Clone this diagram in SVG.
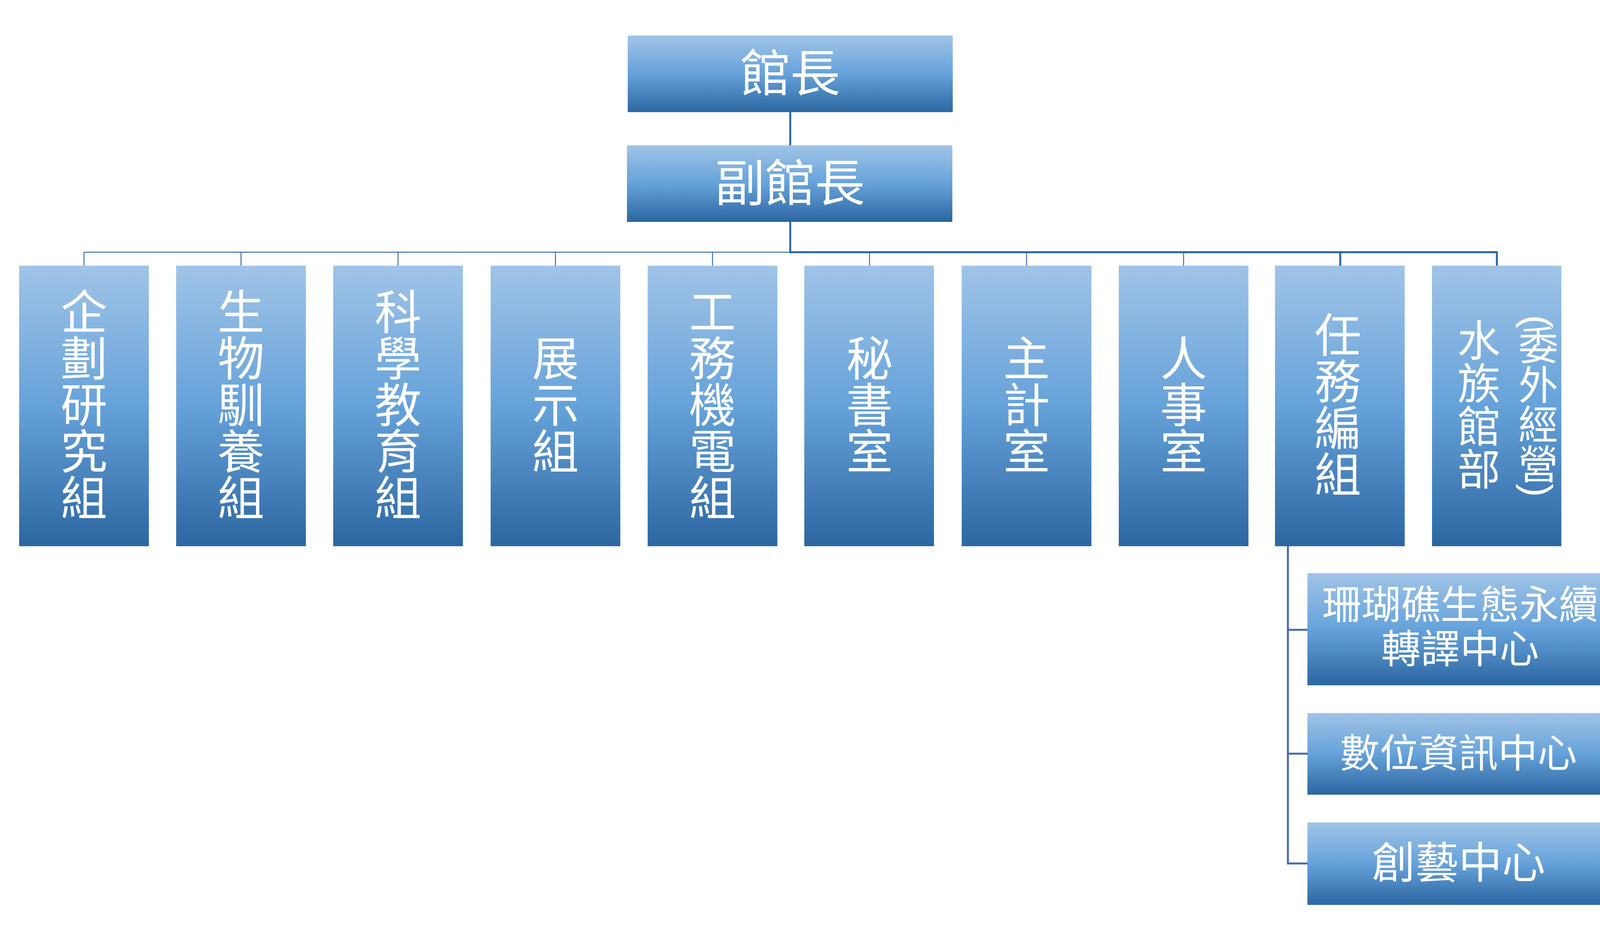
<svg xmlns="http://www.w3.org/2000/svg" width="4187" height="2411" viewBox="0 0 4187 2411">
<defs>
<linearGradient id="g" x1="0" y1="0" x2="0" y2="1">
<stop offset="0" stop-color="#A0C4E7"/>
<stop offset="0.5" stop-color="#66A2DA"/>
<stop offset="1" stop-color="#2C66A1"/>
</linearGradient>
<style>
.b{fill:url(#g)}
.t{fill:#FFFFFF;font-family:"Liberation Sans","Noto Sans CJK TC",sans-serif;text-anchor:middle;dominant-baseline:central}
.v{font-size:120px}
.thin{stroke:#3A6EA8;stroke-width:2.5;fill:none}
.thick{stroke:#2C64A3;stroke-width:5;fill:none}
.sub{stroke:#4169B4;stroke-width:5;fill:none}
</style>
</defs>
<rect width="4187" height="2411" fill="#FFFFFF"/>
<g id="connectors">
<line class="thin" x1="215" y1="645.5" x2="3832" y2="645.5"/>
<line class="thin" x1="215" y1="645" x2="215" y2="681"/>
<line class="thin" x1="617" y1="645" x2="617" y2="681"/>
<line class="thin" x1="1019" y1="645" x2="1019" y2="681"/>
<line class="thin" x1="1422" y1="645" x2="1422" y2="681"/>
<line class="thin" x1="1824" y1="645" x2="1824" y2="681"/>
<line class="thin" x1="2226" y1="645" x2="2226" y2="681"/>
<line class="thin" x1="2628" y1="645" x2="2628" y2="681"/>
<line class="thin" x1="3030" y1="645" x2="3030" y2="681"/>
<line class="thick" x1="2023" y1="287" x2="2023" y2="373"/>
<polyline class="thick" points="2023,568 2023,645.5 3832,645.5 3832,681"/>
<line class="thick" x1="3431" y1="645" x2="3431" y2="681"/>
<line class="sub" x1="3297" y1="1398" x2="3297" y2="2212"/>
<line class="sub" x1="3295" y1="1612" x2="3348" y2="1612"/>
<line class="sub" x1="3295" y1="1929" x2="3348" y2="1929"/>
<line class="sub" x1="3295" y1="2210" x2="3348" y2="2210"/>
</g>
<g id="n-director">
<rect class="b" x="1607" y="91" width="832" height="196"/>
<text class="t" x="2023" y="189" font-size="128">館長</text>
</g>
<g id="n-deputy">
<rect class="b" x="1605" y="372" width="833" height="196"/>
<text class="t" x="2022" y="470" font-size="128">副館長</text>
</g>
<g id="n-planning">
<rect class="b" x="49" y="680" width="332" height="718"/>
<text class="t v"><tspan x="215" y="801">企</tspan><tspan x="215" y="920">劃</tspan><tspan x="215" y="1039">研</tspan><tspan x="215" y="1158">究</tspan><tspan x="215" y="1277">組</tspan></text>
</g>
<g id="n-husbandry">
<rect class="b" x="451" y="680" width="332" height="718"/>
<text class="t v"><tspan x="617" y="801">生</tspan><tspan x="617" y="920">物</tspan><tspan x="617" y="1039">馴</tspan><tspan x="617" y="1158">養</tspan><tspan x="617" y="1277">組</tspan></text>
</g>
<g id="n-education">
<rect class="b" x="853" y="680" width="332" height="718"/>
<text class="t v"><tspan x="1019" y="801">科</tspan><tspan x="1019" y="920">學</tspan><tspan x="1019" y="1039">教</tspan><tspan x="1019" y="1158">育</tspan><tspan x="1019" y="1277">組</tspan></text>
</g>
<g id="n-exhibit">
<rect class="b" x="1256" y="680" width="332" height="718"/>
<text class="t v"><tspan x="1422" y="920">展</tspan><tspan x="1422" y="1039">示</tspan><tspan x="1422" y="1158">組</tspan></text>
</g>
<g id="n-engineering">
<rect class="b" x="1658" y="680" width="332" height="718"/>
<text class="t v"><tspan x="1824" y="801">工</tspan><tspan x="1824" y="920">務</tspan><tspan x="1824" y="1039">機</tspan><tspan x="1824" y="1158">電</tspan><tspan x="1824" y="1277">組</tspan></text>
</g>
<g id="n-secretariat">
<rect class="b" x="2059" y="680" width="332" height="718"/>
<text class="t v"><tspan x="2226" y="920">秘</tspan><tspan x="2226" y="1039">書</tspan><tspan x="2226" y="1158">室</tspan></text>
</g>
<g id="n-accounting">
<rect class="b" x="2462" y="680" width="332" height="718"/>
<text class="t v"><tspan x="2628" y="920">主</tspan><tspan x="2628" y="1039">計</tspan><tspan x="2628" y="1158">室</tspan></text>
</g>
<g id="n-personnel">
<rect class="b" x="2864" y="680" width="332" height="718"/>
<text class="t v"><tspan x="3030" y="920">人</tspan><tspan x="3030" y="1039">事</tspan><tspan x="3030" y="1158">室</tspan></text>
</g>
<g id="n-taskforce">
<rect class="b" x="3264" y="680" width="332" height="718"/>
<text class="t v"><tspan x="3425" y="860">任</tspan><tspan x="3425" y="979">務</tspan><tspan x="3425" y="1098">編</tspan><tspan x="3425" y="1217">組</tspan></text>
</g>
<g id="n-aquarium">
<rect class="b" x="3666" y="680" width="331" height="718"/>
<text class="t" font-size="110"><tspan x="3786" y="873">水</tspan><tspan x="3786" y="983">族</tspan><tspan x="3786" y="1093">館</tspan><tspan x="3786" y="1203">部</tspan></text>
<text class="t" font-size="102" transform="rotate(90 3937 823)" x="3937" y="823">(</text>
<text class="t" font-size="102"><tspan x="3938" y="887">委</tspan><tspan x="3938" y="988">外</tspan><tspan x="3938" y="1089">經</tspan><tspan x="3938" y="1191">營</tspan></text>
<text class="t" font-size="102" transform="rotate(90 3937 1255)" x="3937" y="1255">)</text>
</g>
<g id="n-coral">
<rect class="b" x="3347" y="1467" width="783" height="287"/>
<text class="t" font-size="101"><tspan x="3738" y="1549">珊瑚礁生態永續</tspan><tspan x="3738" y="1662">轉譯中心</tspan></text>
</g>
<g id="n-digital">
<rect class="b" x="3347" y="1825" width="775" height="209"/>
<text class="t" x="3734" y="1929" font-size="101">數位資訊中心</text>
</g>
<g id="n-creative">
<rect class="b" x="3347" y="2105" width="775" height="211"/>
<text class="t" x="3734" y="2210" font-size="111">創藝中心</text>
</g>
</svg>
